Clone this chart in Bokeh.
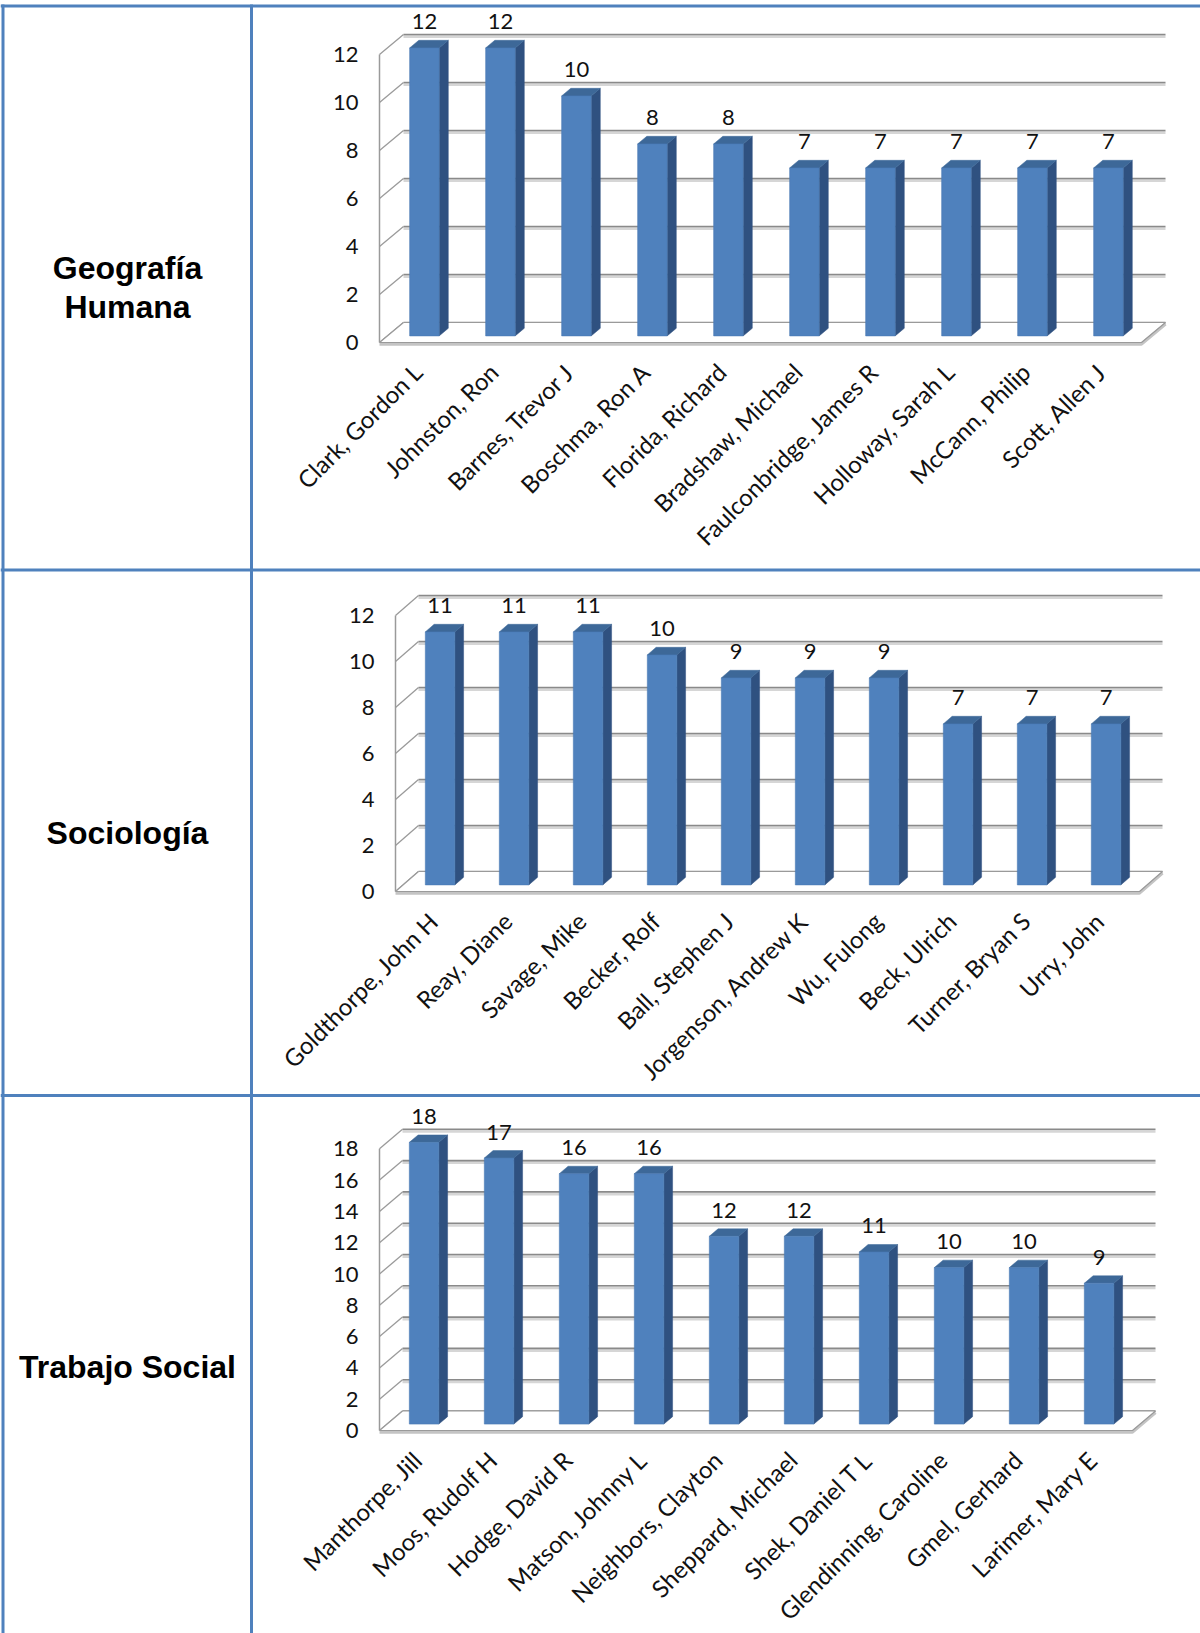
import math
from bokeh.plotting import figure
from bokeh.models import Range1d
from bokeh.core.properties import value
from bokeh.embed import file_html
from bokeh.resources import INLINE

# ---------------- data ----------------
row_labels = ["Geografía\nHumana", "Sociología", "Trabajo Social"]

geo_names = ["Clark, Gordon L", "Johnston, Ron", "Barnes, Trevor J", "Boschma, Ron A",
             "Florida, Richard", "Bradshaw, Michael", "Faulconbridge, James R",
             "Holloway, Sarah L", "McCann, Philip", "Scott, Allen J"]
geo_values = [12, 12, 10, 8, 8, 7, 7, 7, 7, 7]
geo_ticks = [0, 2, 4, 6, 8, 10, 12]

soc_names = ["Goldthorpe, John H", "Reay, Diane", "Savage, Mike", "Becker, Rolf",
             "Ball, Stephen J", "Jorgenson, Andrew K", "Wu, Fulong", "Beck, Ulrich",
             "Turner, Bryan S", "Urry, John"]
soc_values = [11, 11, 11, 10, 9, 9, 9, 7, 7, 7]
soc_ticks = [0, 2, 4, 6, 8, 10, 12]

ts_names = ["Manthorpe, Jill", "Moos, Rudolf H", "Hodge, David R", "Matson, Johnny L",
            "Neighbors, Clayton", "Sheppard, Michael", "Shek, Daniel T L",
            "Glendinning, Caroline", "Gmel, Gerhard", "Larimer, Mary E"]
ts_values = [18, 17, 16, 16, 12, 12, 11, 10, 10, 9]
ts_ticks = [0, 2, 4, 6, 8, 10, 12, 14, 16, 18]

# ---------------- layout (page pixels) ----------------
W, H = 1200, 1633
PX0, PY0 = 0, 0
BORDER = "#4F81BD"
FRONT = "#4F81BD"
SIDE = "#2F5180"
TOP = "#3D6898"
GRID_DARK = "#8a8a8a"
GRID_LIGHT = "#d6d6d6"
CHART_FONT = value("Lato")

p = figure(width=W, height=H, x_range=Range1d(PX0, PX0 + W), y_range=Range1d(PY0 + H, PY0),
           toolbar_location=None, output_backend="svg",
           x_axis_location=None, y_axis_location=None, min_border=0,
           outline_line_color=None)
p.xgrid.visible = False
p.ygrid.visible = False
p.background_fill_color = "white"
p.border_fill_color = "white"

charts = [
    dict(names=geo_names, vals=geo_values, ticks=geo_ticks,
         x0=416, xstep=76, y0=342, ys=24.0, dx=24, dy=20),
    dict(names=soc_names, vals=soc_values, ticks=soc_ticks,
         x0=432, xstep=74, y0=891, ys=23.0, dx=23, dy=20),
    dict(names=ts_names, vals=ts_values, ticks=ts_ticks,
         x0=416, xstep=75, y0=1430, ys=15.65, dx=23, dy=19.5),
]

F_DEPTH = 0.33   # bar front position within depth
B_DEPTH = 0.38   # bar depth
HALF_W = 14.75   # half bar width px

for k, c in enumerate(charts):
    xn, yn = f"x{k}", f"y{k}"
    xs, ys_ = c["xstep"], c["ys"]
    p.extra_x_ranges[xn] = Range1d((PX0 - c["x0"]) / xs, (PX0 + W - c["x0"]) / xs)
    p.extra_y_ranges[yn] = Range1d((c["y0"] - (PY0 + H)) / ys_, (c["y0"] - PY0) / ys_)
    kw = dict(x_range_name=xn, y_range_name=yn)

    ddx = c["dx"] / xs
    ddy = c["dy"] / ys_
    n = len(c["vals"])
    wl = -37 / xs
    wr = (n - 1) + 41 / xs
    ticks = c["ticks"]
    vmax = max(ticks)
    sh = 2.0 / ys_

    # back wall gridlines (with soft shadow)
    p.segment(x0=[wl + ddx] * len(ticks), y0=[t + ddy - sh for t in ticks],
              x1=[wr + ddx] * len(ticks), y1=[t + ddy - sh for t in ticks],
              line_color=GRID_LIGHT, line_width=3, **kw)
    p.segment(x0=[wl + ddx] * len(ticks), y0=[t + ddy for t in ticks],
              x1=[wr + ddx] * len(ticks), y1=[t + ddy for t in ticks],
              line_color=GRID_DARK, line_width=1.6, **kw)
    # left wall diagonals
    p.segment(x0=[wl] * len(ticks), y0=ticks,
              x1=[wl + ddx] * len(ticks), y1=[t + ddy for t in ticks],
              line_color="#9a9a9a", line_width=1.3, **kw)
    # left wall front vertical
    p.segment(x0=[wl], y0=[0], x1=[wl], y1=[vmax], line_color="#9a9a9a", line_width=1.5, **kw)

    # floor slab
    p.patch([wl, wr, wr + ddx, wl + ddx], [0, 0, ddy, ddy], fill_color="white",
            line_color=None, **kw)
    p.line([wl, wr, wr + ddx], [-1.6 / ys_, -1.6 / ys_, ddy - 1.6 / ys_],
           line_color="#c4c4c4", line_width=3.2, **kw)
    p.line([wl + ddx, wl, wr, wr + ddx, wl + ddx], [ddy, 0, 0, ddy, ddy],
           line_color="#9a9a9a", line_width=1.2, **kw)

    # bars
    idx = list(range(n))
    fx = F_DEPTH * ddx
    fy = F_DEPTH * ddy
    bx = B_DEPTH * ddx
    by = B_DEPTH * ddy
    hw = HALF_W / xs
    lefts = [i - hw + fx for i in idx]
    rights = [i + hw + fx for i in idx]
    tops = [v + fy for v in c["vals"]]
    side_xs = [[r, r, r + bx, r + bx] for r in rights]
    side_ys = [[fy, t, t + by, fy + by] for t in tops]
    top_xs = [[l, r, r + bx, l + bx] for l, r in zip(lefts, rights)]
    top_ys = [[t, t, t + by, t + by] for t in tops]
    p.patches(side_xs, side_ys, fill_color=SIDE, line_color=SIDE, line_width=0.5, **kw)
    p.patches(top_xs, top_ys, fill_color=TOP, line_color=TOP, line_width=0.5, **kw)
    p.quad(left=lefts, right=rights, bottom=[fy] * n, top=tops,
           fill_color=FRONT, line_color="#4A7AB3", line_width=0.6, **kw)

    # value labels
    p.text(x=[i + fx for i in idx], y=tops, text=[str(v) for v in c["vals"]],
           text_align="center", text_baseline="middle", y_offset=-26,
           text_font=CHART_FONT, text_font_size="22px", text_color="#111111", **kw)
    # tick labels
    p.text(x=[wl] * len(ticks), y=ticks, text=[str(t) for t in ticks],
           text_align="right", text_baseline="middle", x_offset=-21,
           text_font=CHART_FONT, text_font_size="22px", text_color="#111111", **kw)
    # category labels
    p.text(x=idx, y=[0] * n, text=c["names"], angle=math.pi / 4,
           text_align="right", text_baseline="middle", x_offset=1, y_offset=25,
           text_font=CHART_FONT, text_font_size="24px", text_color="#111111", **kw)

# ---------------- table ----------------
row_sep = [569.5, 1095]
p.segment(x0=[0] * 3, y0=[5.5] + row_sep, x1=[W] * 3, y1=[5.5] + row_sep,
          line_color=BORDER, line_width=3)
p.segment(x0=[2.5, 251], y0=[4, 4], x1=[2.5, 251], y1=[H, H],
          line_color=BORDER, line_width=3)

p.text(x=[127, 127, 127], y=[287, 832, 1366], text=row_labels,
       text_align="center", text_baseline="middle",
       text_font=value("Liberation Sans"), text_font_style="bold",
       text_font_size="32px", text_line_height=1.1, text_color="black")

open("out.html", "w").write(file_html(p, INLINE))
